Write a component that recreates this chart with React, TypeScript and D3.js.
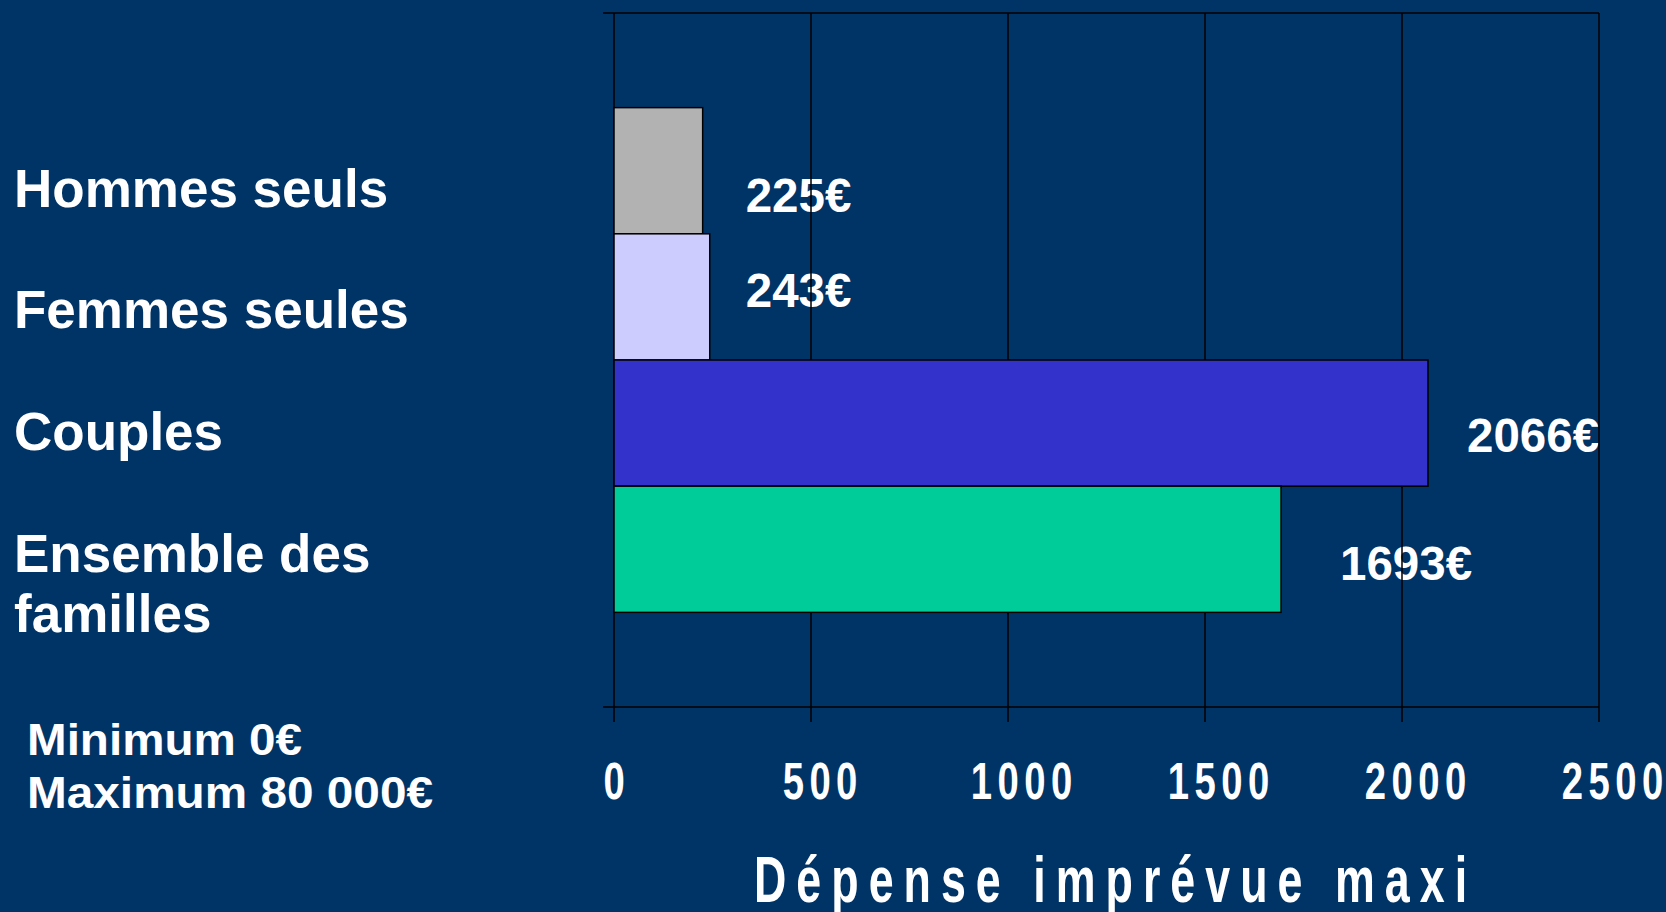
import React from "react";
import * as d3 from "d3";

// ---- data ----
const categories = ["Hommes seuls", "Femmes seules", "Couples", "Ensemble des familles"];
const values = [225, 243, 2066, 1693];
const valueLabels = ["225€", "243€", "2066€", "1693€"];
const categoryLines = [["Hommes seuls"], ["Femmes seules"], ["Couples"], ["Ensemble des", "familles"]];
const barColors = ["#B2B2B2", "#CCCCFF", "#3333CC", "#00CC99"];
const xTicks = [0, 500, 1000, 1500, 2000, 2500];
const axisTitle = "Dépense imprévue maxi";
const rangeNote = ["Minimum 0€", "Maximum 80 000€"];

// ---- layout ----
const W = 1666;
const H = 912;
const BG = "#003366";
const PLOT = { left: 614, right: 1599, top: 13, bottom: 707 };
const LABEL_DX = [43, 36, 39, 59];
const LABEL_DY = [41, 10, 29, 31];
const FONT = "'Liberation Sans', Arial, Helvetica, sans-serif";

export default function App() {
  const x = d3.scaleLinear().domain([0, 2500]).range([PLOT.left, PLOT.right]);
  const y = d3
    .scaleBand<string>()
    .domain(categories)
    .range([PLOT.top, PLOT.bottom])
    .paddingInner(0)
    .paddingOuter(0.75);
  const rowY = d3.scaleLinear().domain([0, categories.length - 1]).range([206.7, 571.7]);

  const tickScale = 0.75;
  const tickPitch = 26.7;
  const gridStroke = 1.5;

  return (
    <svg
      width={W}
      height={H}
      style={{ position: "fixed", left: 0, top: 0, display: "block" }}
      fontFamily={FONT}
    >
      <rect x={0} y={0} width={W} height={H} fill={BG} />

      {/* category labels */}
      {categoryLines.map((lines, i) => (
        <text key={"c" + i} fill="#fff" fontWeight="bold" fontSize={53}>
          {lines.map((ln, j) => (
            <tspan key={j} x={14} y={rowY(i) + j * 60}>
              {ln}
            </tspan>
          ))}
        </text>
      ))}

      {/* value labels (under gridlines) */}
      {categories.map((c, i) => (
        <text
          key={"v" + i}
          x={x(values[i]) + LABEL_DX[i]}
          y={(y(c) as number) + y.bandwidth() / 2 + LABEL_DY[i]}
          fill="#fff"
          fontWeight="bold"
          fontSize={47.5}
        >
          {valueLabels[i]}
        </text>
      ))}

      {/* gridlines + frame */}
      {xTicks.map((t) => (
        <line
          key={"g" + t}
          x1={x(t)}
          x2={x(t)}
          y1={PLOT.top}
          y2={PLOT.bottom + 15}
          stroke="#000"
          strokeWidth={gridStroke}
        />
      ))}
      <line x1={PLOT.left - 11} x2={PLOT.right} y1={PLOT.top} y2={PLOT.top} stroke="#000" strokeWidth={gridStroke} />
      <line x1={PLOT.left - 11} x2={PLOT.right} y1={PLOT.bottom} y2={PLOT.bottom} stroke="#000" strokeWidth={gridStroke} />

      {/* bars */}
      {categories.map((c, i) => (
        <rect
          key={"b" + i}
          x={x(0)}
          y={y(c)}
          width={x(values[i]) - x(0)}
          height={y.bandwidth()}
          fill={barColors[i]}
          stroke="#000"
          strokeWidth={1.5}
        />
      ))}

      {/* x tick labels */}
      {xTicks.map((t) => {
        const s = String(t);
        const n = s.length;
        const tx = x(t) - 8.85 * (n - 1) - 10.6;
        return (
          <text
            key={"t" + t}
            transform={`translate(${tx},799) scale(${tickScale},1)`}
            fill="#fff"
            fontWeight="bold"
            fontSize={51}
            letterSpacing={tickPitch / tickScale - 0.556 * 51}
          >
            {s}
          </text>
        );
      })}

      {/* axis title */}
      <text
        transform={`translate(754,902) scale(0.7,1)`}
        fill="#fff"
        fontWeight="bold"
        fontSize={64}
        letterSpacing={14.3}
      >
        {axisTitle}
      </text>

      {/* range note */}
      {rangeNote.map((ln, i) => (
        <text
          key={"r" + i}
          x={27}
          y={755.3 + i * 53}
          fill="#fff"
          fontWeight="bold"
          fontSize={44}
          textLength={i === 0 ? 275 : 406}
          lengthAdjust="spacingAndGlyphs"
        >
          {ln}
        </text>
      ))}
    </svg>
  );
}
